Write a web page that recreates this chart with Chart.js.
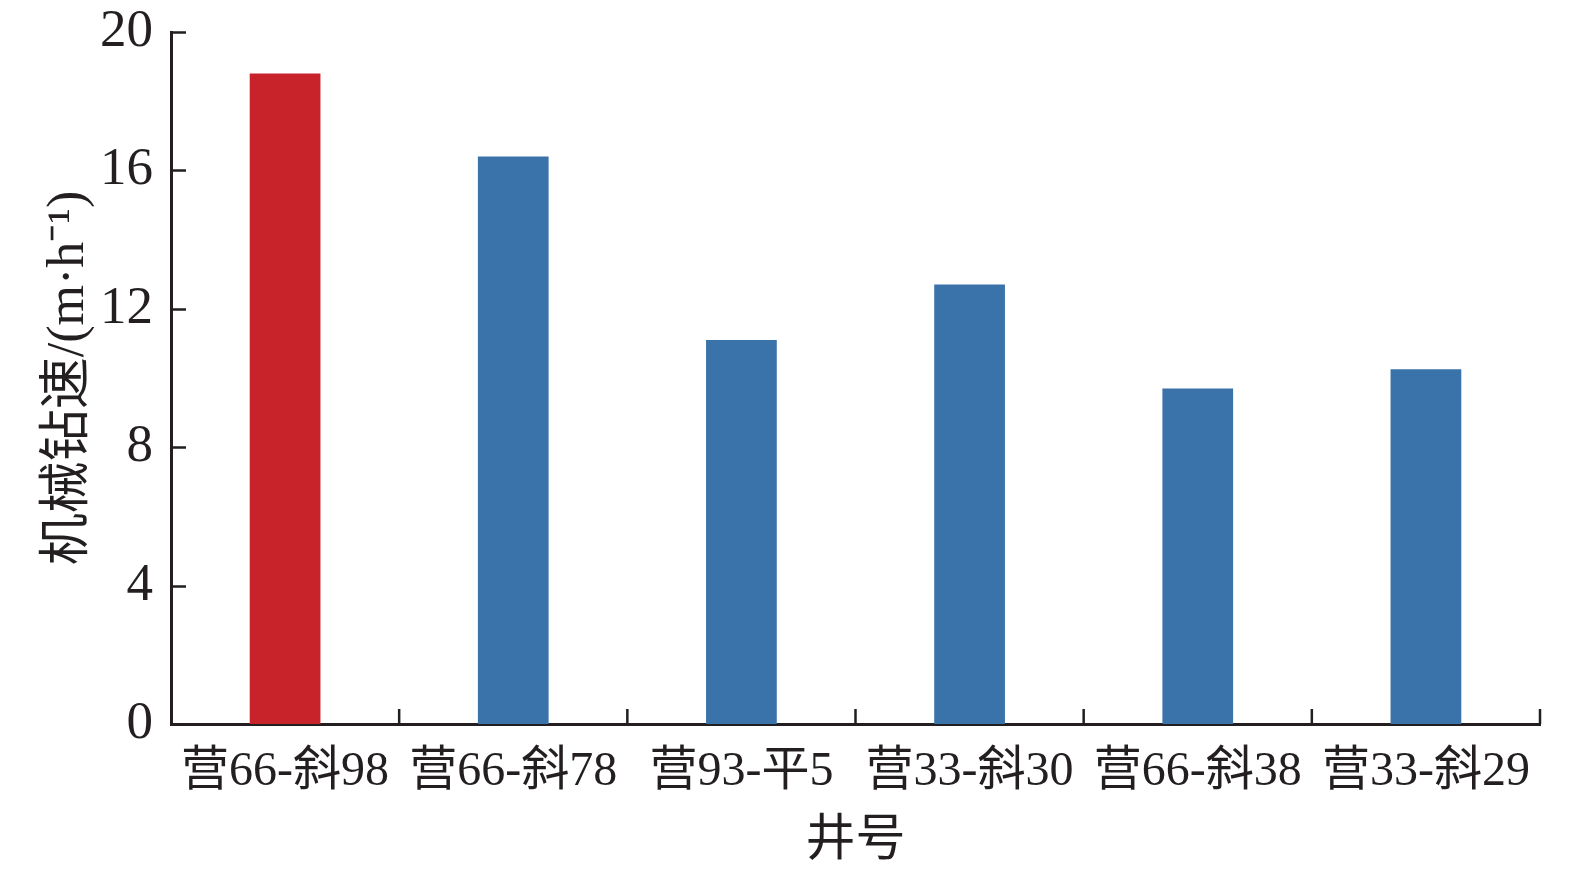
<!DOCTYPE html>
<html>
<head>
<meta charset="utf-8">
<script src="https://cdn.jsdelivr.net/npm/chart.js@4"></script>
<style>
  html, body { margin: 0; padding: 0; background: #fff; }
</style>
</head>
<body>
<canvas id="myChart" width="1575" height="886"></canvas>
<script>
// data
const wells = ['营66-斜98', '营66-斜78', '营93-平5', '营33-斜30', '营66-斜38', '营33-斜29'];
const speed = [18.8, 16.4, 11.1, 12.7, 9.7, 10.25];
const barColors = ['#c8232a', '#3a72aa', '#3a72aa', '#3a72aa', '#3a72aa', '#3a72aa'];
const yTicks = [0, 4, 8, 12, 16, 20];

const ink = '#231f20';
const fontFam = '"Liberation Serif", "Times New Roman", "Noto Sans CJK SC", serif';

// inward tick marks, like the original figure
const innerTicks = {
  id: 'innerTicks',
  afterDraw(chart) {
    const c = chart.ctx, x = chart.scales.x, y = chart.scales.y;
    const len = 15;
    c.save();
    c.strokeStyle = ink;
    c.lineWidth = 2.5;
    c.beginPath();
    yTicks.forEach(v => {
      const py = Math.round(y.getPixelForValue(v)) + 0.5;
      c.moveTo(x.left, py);
      c.lineTo(x.left + len, py);
    });
    for (let i = 1; i <= wells.length; i++) {
      let px;
      if (i < wells.length) px = (x.getPixelForValue(i - 1) + x.getPixelForValue(i)) / 2;
      else px = x.right;
      c.moveTo(px, y.bottom);
      c.lineTo(px, y.bottom - len);
    }
    c.stroke();
    c.restore();
  }
};

const ctx = document.getElementById('myChart');
const myChart = new Chart(ctx, {
  type: 'bar',
  data: {
    labels: wells,
    datasets: [{
      data: speed,
      backgroundColor: barColors,
      borderWidth: 0,
      barPercentage: 0.31,
      categoryPercentage: 1.0
    }]
  },
  options: {
    responsive: false,
    animation: false,
    devicePixelRatio: 1,
    layout: { padding: { top: 32, right: 35, bottom: 0, left: 0 } },
    plugins: { legend: { display: false }, tooltip: { enabled: false } },
    scales: {
      x: {
        grid: { display: false, drawTicks: false },
        border: { color: ink, width: 3 },
        ticks: { color: ink, padding: 20, maxRotation: 0, font: { family: fontFam, size: 48 } },
        title: { display: true, text: '井号', color: ink, padding: { top: 2, bottom: 14 },
                 font: { family: fontFam, size: 50 } },
        afterFit(scale) { scale.height = 162; scale.paddingLeft = 0; scale.paddingRight = 0; }
      },
      y: {
        min: 0, max: 20,
        afterBuildTicks(scale) { scale.ticks = yTicks.map(v => ({ value: v })); },
        grid: { display: false, drawTicks: false },
        border: { color: ink, width: 3 },
        ticks: { color: ink, padding: 18, font: { family: fontFam, size: 53 } },
        title: { display: true, text: '机械钻速/(m·h⁻¹)', color: ink, padding: { top: 38, bottom: 0 },
                 font: { family: fontFam, size: 52 } },
        afterFit(scale) { scale.width = 171; scale.paddingTop = 0; scale.paddingBottom = 0; }
      }
    }
  },
  plugins: [innerTicks]
});
</script>
</body>
</html>
